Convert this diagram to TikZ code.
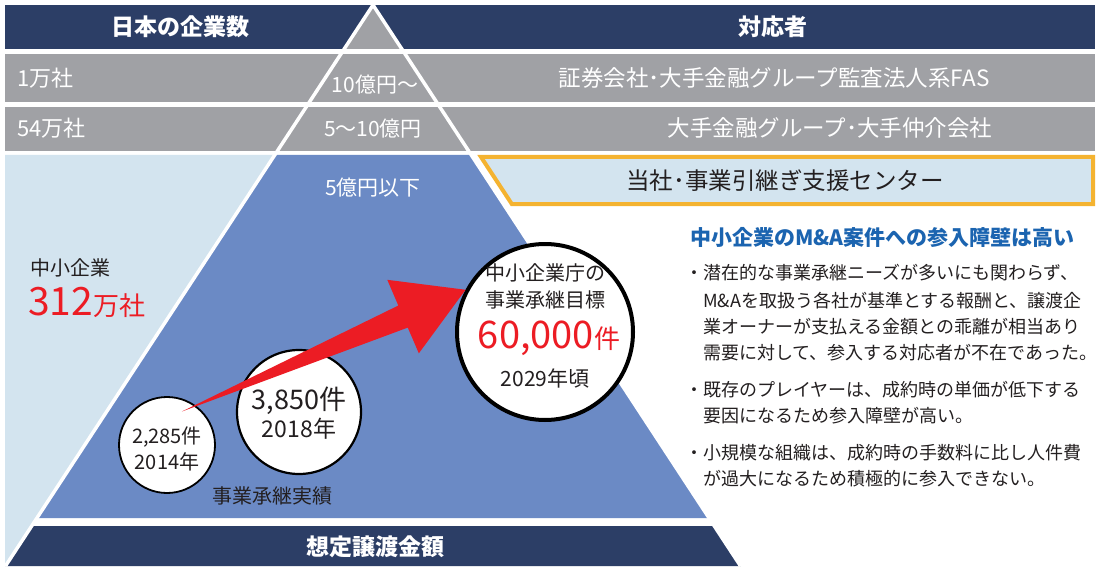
\documentclass[tikz,border=0pt]{standalone}
\usepackage{fontspec}
\setmainfont{Noto Sans CJK JP}
\usetikzlibrary{calc}
\definecolor{navy}{HTML}{2C3E66}
\definecolor{gry}{HTML}{A0A1A5}
\definecolor{lblue}{HTML}{D3E4EF}
\definecolor{pblue}{HTML}{6B8AC5}
\definecolor{ylw}{HTML}{F4B331}
\definecolor{rred}{HTML}{EC1C24}
\definecolor{hblue}{HTML}{1B64B0}
\definecolor{dtext}{HTML}{231F20}
\newcommand\fsz[1]{\fontsize{#1}{#1}\selectfont}
\begin{document}
\begin{tikzpicture}[x=1pt,y=-1pt,
  lbl/.style={inner sep=0pt, text=dtext},
  wlbl/.style={inner sep=0pt, text=white},
  circ/.style={circle, draw=black, fill=white, inner sep=0pt},
  bodyline/.style={inner sep=0pt, text=dtext, anchor=west, font=\fsz{18}},
]
\useasboundingbox (0,0) rectangle (1098,567);
\fill[white] (0,0) rectangle (1098,567);
% header and rows
\fill[navy] (5,5) rectangle (1095,49);
\fill[gry] (5,54) rectangle (1095,102);
\fill[gry] (5,107) rectangle (1095,151);
% pyramid
\fill[gry] (373,5) -- (401.8,49) -- (344.2,49) -- cycle;
\fill[lblue] (5,155) -- (274.75,155) -- (5.5,566) -- (5,566) -- cycle;
\fill[pblue] (274.75,155) -- (471.25,155) -- (709,518) -- (37,518) -- cycle;
\fill[navy] (31.75,526) -- (714.25,526) -- (740.5,566) -- (5.5,566) -- cycle;
\draw[white, line width=3.5pt, line join=miter] (5.5,566) -- (373,5) -- (740.5,566);
% yellow box
\draw[ylw, line width=4pt, fill=lblue] (481,157) -- (1093,157) -- (1093,204) -- (511.8,204) -- cycle;
\node[lbl, font=\fsz{23.5}] (center) at (785,181) {当社･事業引継ぎ支援センター};
% header texts
\node[wlbl, font=\fsz{23}\bfseries] (hdrL) at (180,27) {日本の企業数};
\node[wlbl, font=\fsz{23}\bfseries] (hdrR) at (773,27) {対応者};
\node[wlbl, font=\fsz{22}, anchor=west] (r1L) at (17,78) {1万社};
\node[wlbl, font=\fsz{22}, anchor=west] (r2L) at (17,128) {54万社};
\node[wlbl, font=\fsz{21}] (r1C) at (375,85) {10億円〜};
\node[wlbl, font=\fsz{21}] (r2C) at (373,129) {5〜10億円};
\node[wlbl, font=\fsz{22.5}] (r1R) at (774,78) {証券会社･大手金融グループ監査法人系FAS};
\node[wlbl, font=\fsz{22.5}] (r2R) at (830,128) {大手金融グループ･大手仲介会社};
\node[wlbl, font=\fsz{21}] (blueTop) at (373,188) {5億円以下};
% SME
\node[lbl, font=\fsz{20}, anchor=west] (sme) at (30,268) {中小企業};
\node[inner sep=0pt, text=rred, anchor=west] (smeN) at (28,302) {{\fsz{39}312}{\fsz{26}万社}};
% circles
\node[circ, line width=1.8pt, minimum size=96pt] (small) at (167,445) {};
\node[circ, line width=2.2pt, minimum size=124pt] (mid) at (299,412) {};
\node[circ, line width=4pt, minimum size=176pt] (big) at (545,332) {};
% arrow
\coordinate (atail) at ($(small.center)!0.75!(small.66)$);
\coordinate (atip) at (big.152);
\coordinate (abase) at ($(atip)!68pt!(atail)$);
\coordinate (s1) at ($(abase)!12pt!90:(atip)$);
\coordinate (s2) at ($(abase)!12pt!-90:(atip)$);
\coordinate (h1) at ($(abase)!40pt!90:(atip)$);
\coordinate (h2) at ($(abase)!40pt!-90:(atip)$);
\fill[rred] (atail) -- (s1) -- (h1) -- (atip) -- (h2) -- (s2) -- cycle;
% circle texts
\node[lbl, font=\fsz{20}] (c1a) at (167,437) {2,285件};
\node[lbl, font=\fsz{20}] (c1b) at (167,462) {2014年};
\node[lbl, font=\fsz{27}] (c2a) at (299,401) {3,850件};
\node[lbl, font=\fsz{23}] (c2b) at (299,429) {2018年};
\node[lbl, font=\fsz{20}] (c3a) at (545,273) {中小企業庁の};
\node[lbl, font=\fsz{20}] (c3b) at (545,300) {事業承継目標};
\node[inner sep=0pt, text=rred] (c3c) at (549,338) {{\fsz{38}60,000}{\fsz{26}件}};
\node[lbl, font=\fsz{21}] (c3d) at (545,378) {2029年頃};
% bottom labels
\node[lbl, font=\fsz{20}] (jisseki) at (272,496) {事業承継実績};
\node[wlbl, font=\fsz{23}\bfseries] (bottom) at (375,547) {想定譲渡金額};
% right text block
\node[inner sep=0pt, text=hblue, anchor=west, font=\fsz{21}\bfseries] (head) at (690,237) {中小企業のM\&A案件への参入障壁は高い};
\node[bodyline] (b1) at (703,273) {\llap{・}潜在的な事業承継ニーズが多いにも関わらず、};
\node[bodyline] (b2) at (703,301) {M\&Aを取扱う各社が基準とする報酬と、譲渡企};
\node[bodyline] (b3) at (703,327) {業オーナーが支払える金額との乖離が相当あり};
\node[bodyline] (b4) at (703,353) {需要に対して、参入する対応者が不在であった。};
\node[bodyline] (b5) at (703,390) {\llap{・}既存のプレイヤーは、成約時の単価が低下する};
\node[bodyline] (b6) at (703,416) {要因になるため参入障壁が高い。};
\node[bodyline] (b7) at (703,453) {\llap{・}小規模な組織は、成約時の手数料に比し人件費};
\node[bodyline] (b8) at (703,479) {が過大になるため積極的に参入できない。};
\end{tikzpicture}
\end{document}
